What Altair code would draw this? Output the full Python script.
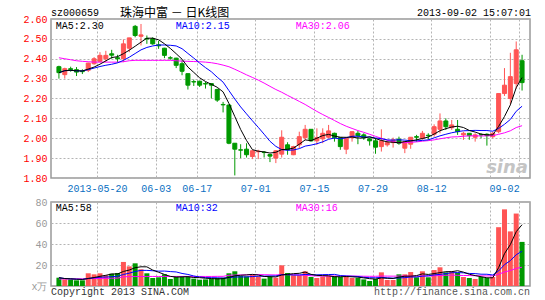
import altair as alt
import pandas as pd
import numpy as np

# ---------------- data ----------------
opens = [2.36, 2.32, 2.35, 2.345, 2.337, 2.342, 2.375, 2.387, 2.40, 2.425,
         2.405, 2.40, 2.453, 2.563, 2.513, 2.502, 2.50, 2.47, 2.453, 2.405,
         2.403, 2.375, 2.325, 2.285, 2.287, 2.275, 2.275, 2.245, 2.17, 2.167,
         1.975, 1.942, 1.945, 1.908, 1.932, 1.93, 1.918, 1.90, 1.92, 1.967,
         1.917, 1.967, 2.003, 2.045, 1.987, 1.997, 2.005, 2.025, 2.003, 1.945,
         2.003, 2.025, 2.017, 1.997, 1.987, 1.958, 1.967, 1.978, 1.995, 1.95,
         1.97, 2.008, 2.0, 2.015, 2.02, 2.045, 2.087, 2.053, 2.045, 2.017,
         2.025, 2.005, 2.018, 2.02, 2.008, 2.033, 2.225, 2.20, 2.275, 2.39]
closes = [2.33, 2.35, 2.345, 2.333, 2.335, 2.378, 2.40, 2.417, 2.417, 2.418,
          2.40, 2.475, 2.505, 2.517, 2.52, 2.50, 2.475, 2.465, 2.417, 2.403,
          2.367, 2.337, 2.267, 2.283, 2.267, 2.273, 2.267, 2.192, 2.168, 1.975,
          1.945, 1.94, 1.917, 1.937, 1.935, 1.928, 1.91, 1.937, 2.005, 1.942,
          1.958, 2.008, 2.045, 1.987, 2.003, 2.025, 2.037, 2.003, 1.958, 2.0,
          2.033, 2.013, 2.003, 1.987, 1.955, 1.987, 1.978, 1.992, 1.975, 1.983,
          2.005, 2.005, 2.025, 2.013, 2.058, 2.087, 2.058, 2.067, 2.033, 2.025,
          2.013, 2.017, 2.017, 2.013, 2.025, 2.225, 2.267, 2.31, 2.445, 2.28]
highs = [2.365, 2.355, 2.36, 2.358, 2.347, 2.38, 2.408, 2.433, 2.44, 2.445,
         2.42, 2.497, 2.505, 2.57, 2.575, 2.517, 2.508, 2.49, 2.455, 2.413,
         2.405, 2.392, 2.325, 2.295, 2.29, 2.283, 2.275, 2.25, 2.183, 2.17,
         1.975, 1.97, 1.975, 1.94, 1.942, 1.935, 1.92, 1.94, 2.04, 1.98,
         1.962, 2.033, 2.067, 2.045, 2.05, 2.05, 2.067, 2.028, 2.005, 2.0,
         2.035, 2.037, 2.025, 2.003, 2.0, 2.045, 1.99, 2.003, 2.008, 1.985,
         2.005, 2.017, 2.037, 2.025, 2.07, 2.125, 2.10, 2.092, 2.092, 2.033,
         2.025, 2.025, 2.025, 2.025, 2.033, 2.225, 2.353, 2.43, 2.487, 2.42]
lows = [2.30, 2.30, 2.335, 2.313, 2.323, 2.333, 2.37, 2.383, 2.383, 2.40,
        2.38, 2.383, 2.433, 2.508, 2.467, 2.475, 2.47, 2.45, 2.403, 2.395,
        2.353, 2.317, 2.245, 2.263, 2.258, 2.25, 2.20, 2.183, 2.13, 1.97,
        1.813, 1.90, 1.903, 1.895, 1.895, 1.903, 1.88, 1.875, 1.903, 1.917,
        1.915, 1.95, 1.992, 1.983, 1.967, 1.975, 2.0, 1.983, 1.942, 1.92,
        1.983, 1.97, 1.992, 1.963, 1.922, 1.933, 1.958, 1.953, 1.967, 1.925,
        1.947, 1.983, 1.992, 1.992, 2.008, 2.025, 2.042, 2.042, 2.017, 1.992,
        1.992, 1.983, 2.0, 1.963, 2.0, 2.025, 2.213, 2.17, 2.25, 2.24]
volumes = [7.9, 6.3, 6.3, 5.4, 5.4, 12.1, 11.1, 12.1, 10.2, 11.7,
           12.4, 22.9, 18.7, 21.6, 15.9, 12.1, 7.6, 8.3, 11.1, 6.7,
           8.9, 8.6, 9.2, 7.0, 6.0, 6.3, 7.0, 7.6, 7.9, 12.1,
           14.0, 9.5, 9.2, 10.5, 9.2, 7.0, 8.6, 7.9, 19.7, 12.4,
           10.2, 10.2, 14.0, 8.6, 7.6, 8.9, 9.5, 9.5, 8.6, 8.6,
           7.6, 7.6, 6.3, 4.8, 6.7, 13.0, 5.7, 5.7, 11.1, 11.1,
           13.3, 8.3, 14.0, 8.3, 15.2, 17.8, 13.0, 14.0, 12.7, 8.6,
           7.6, 6.7, 8.6, 7.6, 8.6, 56.0, 73.0, 52.0, 69.0, 42.0]
# MA30 values shown before 30 sessions of history are available in the window
price_ma30_head = [2.405, 2.40, 2.395, 2.39, 2.387, 2.385, 2.383, 2.383, 2.383, 2.383,
                   2.383, 2.385, 2.39, 2.392, 2.392, 2.392, 2.392, 2.392, 2.392, 2.392,
                   2.39, 2.388, 2.387, 2.386, 2.385, 2.383, 2.38, 2.375, 2.368]
vol_ma30_head = [6.7, 6.7, 6.7, 6.8, 6.8, 7.0, 7.1, 7.2, 7.3, 7.4,
                 7.5, 8.8, 8.9, 9.0, 9.0, 9.1, 9.1, 9.1, 9.1, 9.1,
                 9.1, 9.1, 9.1, 9.1, 9.1, 9.1, 9.1, 9.2, 9.2]

tick_pos = [6.5, 16.5, 23.5, 33.5, 43.5, 53.5, 63.5, 73.5, 78.5]
tick_text = ["2013-05-20", "06-03", "06-17", "07-01", "07-15", "07-29", "08-12", "", "09-02"]
price_ticks = [1.8, 1.9, 2.0, 2.1, 2.2, 2.3, 2.4, 2.5, 2.6]
vol_ticks = [0, 20, 40, 60, 80]

code = "sz000659"
title = "珠海中富 － 日K线图"
stamp = "2013-09-02 15:07:01"
price_ma_text = ["MA5:2.30", "MA10:2.15", "MA30:2.06"]
vol_ma_text = ["MA5:58", "MA10:32", "MA30:16"]
copyright_text = "Copyright 2013 SINA.COM"
url_text = "http://finance.sina.com.cn"

# ---------------- build table ----------------
n = len(closes)
df = pd.DataFrame(dict(i=list(range(n)), open=opens, close=closes, high=highs,
                       low=lows, vol=volumes))
df["dir"] = np.where(df["close"] >= df["open"], "up", "down")


def moving(s, w, head=None):
    r = s.rolling(w, min_periods=1).mean()
    if head is not None:
        r.iloc[:len(head)] = head
    return r


df["ma5"] = moving(df["close"], 5)
df["ma10"] = moving(df["close"], 10)
df["ma30"] = moving(df["close"], 30, price_ma30_head)
df["vma5"] = moving(df["vol"], 5)
df["vma10"] = moving(df["vol"], 10)
df["vma30"] = moving(df["vol"], 30, vol_ma30_head)

MONO = "Liberation Mono"
GRID = "#b4b4b4"
UP, DOWN = "#ff5555", "#009900"

expr = "''"
for p, t in reversed(list(zip(tick_pos, tick_text))):
    expr = f"datum.value == {p} ? '{t}' : ({expr})"

xscale = alt.Scale(domain=[-0.5, n - 0.5], nice=False, zero=False)
x_top = alt.X("i:Q", scale=xscale, axis=alt.Axis(
    values=tick_pos, tickCount=50, labelExpr=expr, grid=True, gridColor=GRID, gridDash=[2, 2],
    ticks=False, domain=False, title=None, labelColor="#0a6fc2", labelFont=MONO,
    labelFontSize=10, labelPadding=5, labelOverlap=False, labelFlush=False,
    labelAlign={"condition": {"test": "datum.value > 78", "value": "right"}, "value": "center"}))
x_bot = alt.X("i:Q", scale=xscale, axis=alt.Axis(
    values=tick_pos, tickCount=50, grid=True, gridColor=GRID, gridDash=[2, 2], labels=False,
    ticks=False, domain=False, title=None))

dir_scale = alt.Scale(domain=["up", "down"], range=[UP, DOWN])
col = alt.Color("dir:N", scale=dir_scale, legend=None)
stk = alt.Stroke("dir:N", scale=dir_scale, legend=None)

y_price = alt.Y("low:Q", scale=alt.Scale(domain=[1.8, 2.6], nice=False, zero=False),
                axis=alt.Axis(values=price_ticks, tickCount=50, format=".2f", labelColor="#ff0000",
                              labelFont=MONO, labelFontSize=10, labelPadding=4,
                              labelOverlap=False, labelFlush=False,
                              ticks=False, domain=False, grid=True, gridColor=GRID,
                              gridDash=[2, 2], title=None))

base = alt.Chart(df)
wick = base.mark_rule(strokeWidth=1).encode(x=x_top, y=y_price, y2="high:Q", color=col)
body = base.mark_bar(size=4, strokeWidth=1).encode(x=x_top, y="open:Q", y2="close:Q",
                                                   color=col, stroke=stk)
l30 = base.mark_line(color="#ff00ff", strokeWidth=1).encode(x=x_top, y="ma30:Q")
l10 = base.mark_line(color="#0000ff", strokeWidth=1).encode(x=x_top, y="ma10:Q")
l5 = base.mark_line(color="#000000", strokeWidth=1).encode(x=x_top, y="ma5:Q")


def label(txt, x, y, color, align="left", size=10, font=MONO, **kw):
    return alt.Chart(pd.DataFrame({"t": [txt]})).mark_text(
        align=align, baseline="alphabetic", color=color, fontSize=size, font=font, **kw
    ).encode(x=alt.value(x), y=alt.value(y), text="t:N")


top = alt.layer(
    wick, body, l30, l10, l5,
    label("sina", 477, 154, "#c4c4c4", align="right", size=18, font="DejaVu Sans",
          fontWeight="bold", fontStyle="italic"),
    label(price_ma_text[0], 4.7, 9.5, "#000000"),
    label(price_ma_text[1], 124.7, 9.5, "#0000ff"),
    label(price_ma_text[2], 244.7, 9.5, "#ff00ff"),
    label(code, 0, -3, "#000000"),
    label(title, 69, -2.5, "#000000", size=12, font="Noto Sans CJK SC"),
    label(stamp, 480, -3, "#000000", align="right"),
).properties(width=479, height=159)

y_vol = alt.Y("vol:Q", scale=alt.Scale(domain=[0, 80], nice=False),
              axis=alt.Axis(values=vol_ticks, tickCount=50,
                            labelExpr="datum.value == 0 ? 'x万' : datum.value",
                            labelColor="#999999", labelFont=MONO, labelFontSize=10,
                            labelPadding=4, labelOverlap=False, labelFlush=False,
                            ticks=False, domain=False, grid=True,
                            gridColor=GRID, gridDash=[2, 2], title=None))
vbars = base.mark_bar(size=5).encode(x=x_bot, y=y_vol, color=col)
v30 = base.mark_line(color="#ff00ff", strokeWidth=1).encode(x=x_bot, y="vma30:Q")
v10 = base.mark_line(color="#0000ff", strokeWidth=1).encode(x=x_bot, y="vma10:Q")
v5 = base.mark_line(color="#000000", strokeWidth=1).encode(x=x_bot, y="vma5:Q")

bottom = alt.layer(
    vbars, v30, v10, v5,
    label(vol_ma_text[0], 4.7, 8.5, "#000000"),
    label(vol_ma_text[1], 124.7, 8.5, "#0000ff"),
    label(vol_ma_text[2], 244.7, 8.5, "#ff00ff"),
    label(copyright_text, 0, 93, "#333333"),
    label(url_text, 479, 93, "#555555", align="right"),
).properties(width=479, height=84)

chart = alt.vconcat(top, bottom, spacing=2).properties(
    padding={"left": 22, "top": 5, "right": 0, "bottom": 0},
    background="#ffffff",
).configure_view(stroke="#999999", strokeWidth=1.5)

chart.save("out.html", embed_options={"renderer": "svg", "actions": False})
